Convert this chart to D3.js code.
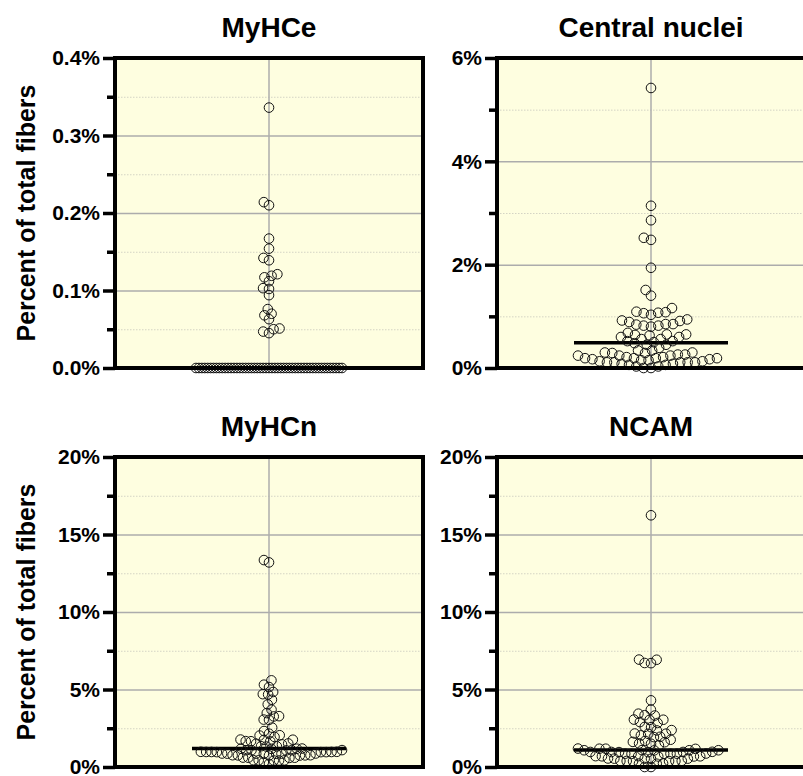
<!DOCTYPE html>
<html>
<head>
<meta charset="utf-8">
<script src="https://cdn.jsdelivr.net/npm/d3@7"></script>
<style>
  html, body { margin: 0; padding: 0; background: #ffffff; }
  svg { display: block; font-family: "Liberation Sans", Arial, Helvetica, sans-serif; }
</style>
</head>
<body>
<svg id="chart" width="803" height="776"></svg>
<script>
// ---------------- DATA ----------------
const panelTitles = ["MyHCe", "Central nuclei", "MyHCn", "NCAM"];
const yAxisTitle = "Percent of total fibers";

const myhceValues = [
  0.336, 0.214, 0.210, 0.167, 0.154, 0.142, 0.139, 0.121, 0.119, 0.117, 0.112,
  0.103, 0.102, 0.094, 0.076, 0.070, 0.068, 0.063, 0.051, 0.050, 0.047, 0.045,
  0, 0, 0, 0, 0, 0, 0, 0, 0, 0, 0, 0, 0, 0, 0, 0, 0, 0, 0, 0, 0, 0, 0, 0, 0, 0,
  0, 0, 0, 0, 0, 0, 0, 0, 0, 0, 0, 0, 0, 0, 0, 0, 0, 0, 0, 0, 0, 0, 0, 0, 0
];
const centralNucleiValues = [
  5.42, 3.14, 2.86, 2.52, 2.48, 1.94, 1.51, 1.40,
  1.16, 1.09, 1.08, 1.07, 1.06, 1.03, 0.94, 0.92, 0.91, 0.89, 0.85, 0.85, 0.84, 0.82, 0.82, 0.80,
  0.68, 0.65, 0.65, 0.64, 0.63, 0.60, 0.60, 0.56, 0.56, 0.52, 0.52, 0.50,
  0.48, 0.45, 0.45, 0.39, 0.34, 0.34, 0.30, 0.30, 0.29, 0.29, 0.26, 0.26, 0.24, 0.24, 0.24,
  0.21, 0.21, 0.19, 0.19, 0.19, 0.19, 0.17, 0.17, 0.15, 0.15, 0.13, 0.13,
  0.11, 0.11, 0.11, 0.11, 0.11, 0.08, 0.08, 0.06, 0.06, 0.03, 0.03, 0.00, 0.00
];
const myhcnValues = [
  13.2, 13.35, 5.59, 5.31, 5.16, 4.84, 4.70, 4.68, 4.34, 4.04, 3.70, 3.48, 3.28, 3.26,
  3.06, 3.04, 2.54, 2.32, 2.15, 2.05, 2.03, 1.94, 1.77, 1.76, 1.75, 1.67, 1.66, 1.65,
  1.52, 1.50, 1.46, 1.34, 1.33, 1.32, 1.19, 1.18, 1.18, 1.17, 1.09, 1.08, 1.08, 1.08, 1.07,
  0.98, 0.98, 0.97, 0.97, 0.97, 0.96, 0.96, 0.96, 0.87, 0.87, 0.86, 0.86, 0.86, 0.85, 0.85,
  0.76, 0.76, 0.75, 0.75, 0.74, 0.74, 0.61, 0.60, 0.60, 0.59, 0.44, 0.43, 0.43, 0.42, 0.42,
  0.32, 0.20
];
const ncamValues = [
  16.24, 6.92, 6.93, 6.71, 6.70, 4.30, 3.70, 3.44, 3.34, 3.32, 3.06, 3.05, 3.04, 2.90, 2.84,
  2.59, 2.57, 2.38, 2.36, 2.16, 2.15, 2.14, 2.04, 1.95, 1.93, 1.76, 1.68, 1.62, 1.60, 1.52,
  1.50, 1.40, 1.19, 1.18, 1.18, 1.17, 1.09, 1.08, 1.08, 1.08, 1.07, 0.98, 0.97, 0.97, 0.97,
  0.96, 0.96, 0.87, 0.86, 0.86, 0.86, 0.85, 0.85, 0.70, 0.70, 0.69, 0.69, 0.68, 0.68,
  0.55, 0.54, 0.54, 0.54, 0.53, 0.40, 0.39, 0.39, 0.39, 0.38, 0.38, 0.23, 0.22, 0.21,
  0.00, 0.00
];
const panelMedians = [0, 0.49, 1.2, 1.1];

const myhceTicks = [0, 0.1, 0.2, 0.3, 0.4];
const myhceMinorTicks = [0.05, 0.15, 0.25, 0.35];
const centralTicks = [0, 2, 4, 6];
const centralMinorTicks = [1, 3, 5];
const pctTicks = [0, 5, 10, 15, 20];
const pctMinorTicks = [2.5, 7.5, 12.5, 17.5];
const myhceTickLabels = ["0.0%", "0.1%", "0.2%", "0.3%", "0.4%"];

// ---------------- LAYOUT ----------------
const svg = d3.select("#chart");
const panelW = 308, panelH = 310;
const cols = [115, 497];
const rows = [58, 457];
const bg = "#fefee0";
const halfSpread = 73;

const panels = [
  { title: panelTitles[0], values: myhceValues, max: 0.4, ticks: myhceTicks, minor: myhceMinorTicks,
    fmt: (d, i) => myhceTickLabels[i], median: panelMedians[0], x: cols[0], y: rows[0], dist: 6 },
  { title: panelTitles[1], values: centralNucleiValues, max: 6, ticks: centralTicks, minor: centralMinorTicks,
    fmt: d => d + "%", median: panelMedians[1], x: cols[1], y: rows[0], dist: 8.2 },
  { title: panelTitles[2], values: myhcnValues, max: 20, ticks: pctTicks, minor: pctMinorTicks,
    fmt: d => d + "%", median: panelMedians[2], x: cols[0], y: rows[1], dist: 7.5 },
  { title: panelTitles[3], values: ncamValues, max: 20, ticks: pctTicks, minor: pctMinorTicks,
    fmt: d => d + "%", median: panelMedians[3], x: cols[1], y: rows[1], dist: 7.5 }
];

function beeswarm(values, yScale, minDist, maxHalf) {
  const pts = values.map(v => ({ v, y: yScale(v), x: 0 }));
  const groups = d3.group(pts, d => d.v);
  const placed = [];
  for (const [v, g] of groups) {
    if (g.length * minDist > 2 * maxHalf) {
      const s = 2 * maxHalf / (g.length - 1);
      g.forEach((p, i) => { p.x = -maxHalf + i * s; p.fixed = true; placed.push(p); });
    }
  }
  const rest = pts.filter(p => !p.fixed).sort((a, b) => b.y - a.y);
  for (const p of rest) {
    const near = placed.filter(q => Math.abs(q.y - p.y) < minDist);
    const cands = [0];
    for (const q of near) {
      const dx = Math.sqrt(minDist * minDist - (q.y - p.y) ** 2);
      cands.push(q.x + dx, q.x - dx);
    }
    cands.sort((a, b) => Math.abs(a) - Math.abs(b) || a - b);
    for (const c of cands) {
      if (near.every(q => (q.x - c) ** 2 + (q.y - p.y) ** 2 >= minDist * minDist - 1e-6)) { p.x = c; break; }
    }
    placed.push(p);
  }
  // compress horizontally so the swarm keeps within the fixed width
  const free = pts.filter(p => !p.fixed);
  const m = d3.max(free, p => Math.abs(p.x)) || 0;
  if (m > maxHalf) free.forEach(p => { p.x *= maxHalf / m; });
  return pts;
}

panels.forEach((P, idx) => {
  const g = svg.append("g").attr("transform", `translate(${P.x},${P.y})`);
  const y = d3.scaleLinear().domain([0, P.max]).range([panelH, 0]);
  const cx = panelW / 2;

  g.append("rect").attr("width", panelW).attr("height", panelH).attr("fill", bg);

  // minor grid (dotted)
  g.append("g").call(d3.axisLeft(y).tickValues(P.minor).tickSize(-panelW).tickFormat(""))
    .call(s => s.select(".domain").remove())
    .call(s => s.selectAll("line").attr("stroke", "#d4d4c4").attr("stroke-width", 1).attr("stroke-dasharray", "1.5,1.5"));
  // major grid
  g.append("g").call(d3.axisLeft(y).tickValues(P.ticks).tickSize(-panelW).tickFormat(""))
    .call(s => s.select(".domain").remove())
    .call(s => s.selectAll("line").attr("stroke", "#acacac").attr("stroke-width", 1.5));
  // vertical center line
  g.append("line").attr("x1", cx).attr("x2", cx).attr("y1", 0).attr("y2", panelH)
    .attr("stroke", "#acacac").attr("stroke-width", 1.5);

  // median line
  g.append("line").attr("x1", cx - 77).attr("x2", cx + 77)
    .attr("y1", y(P.median)).attr("y2", y(P.median))
    .attr("stroke", "#000").attr("stroke-width", 3.5);

  // points
  const pts = beeswarm(P.values, y, P.dist, halfSpread);
  g.append("g").selectAll("circle").data(pts).join("circle")
    .attr("cx", d => cx + d.x).attr("cy", d => d.y).attr("r", 4.8)
    .attr("fill", "none").attr("stroke", "#111").attr("stroke-width", 1);

  // frame
  g.append("rect").attr("width", panelW).attr("height", panelH)
    .attr("fill", "none").attr("stroke", "#000").attr("stroke-width", 4);

  // minor ticks
  g.append("g").call(d3.axisLeft(y).tickValues(P.minor).tickSize(8).tickFormat(""))
    .call(s => s.select(".domain").remove())
    .call(s => s.selectAll("line").attr("stroke", "#000").attr("stroke-width", 3.5));
  // major ticks + labels
  g.append("g").call(d3.axisLeft(y).tickValues(P.ticks).tickSize(12).tickPadding(3).tickFormat(P.fmt))
    .call(s => s.select(".domain").remove())
    .call(s => s.selectAll("line").attr("stroke", "#000").attr("stroke-width", 3.5))
    .call(s => s.selectAll("text").attr("fill", "#000").attr("font-size", 21).attr("font-weight", "bold")
      .attr("font-family", "'Liberation Sans', Arial, sans-serif"));

  // title
  svg.append("text").attr("x", P.x + cx).attr("y", P.y - 21)
    .attr("text-anchor", "middle").attr("font-size", 28).attr("font-weight", "bold")
    .text(P.title);

  if (idx % 2 === 0) {
    svg.append("text")
      .attr("transform", `translate(35,${P.y + panelH / 2}) rotate(-90)`)
      .attr("text-anchor", "middle").attr("font-size", 25).attr("font-weight", "bold")
      .text(yAxisTitle);
  }
});
</script>
</body>
</html>
